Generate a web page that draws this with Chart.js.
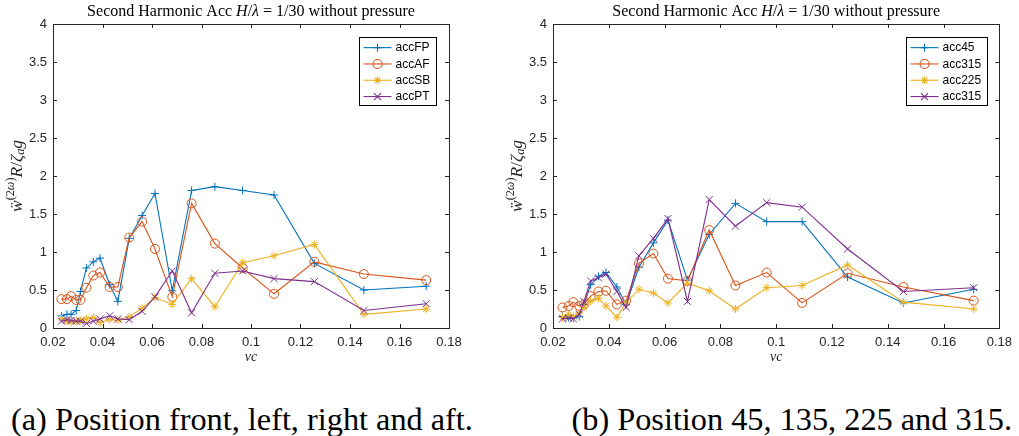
<!DOCTYPE html>
<html>
<head>
<meta charset="utf-8">
<script src="https://cdn.jsdelivr.net/npm/chart.js@4/dist/chart.umd.min.js"></script>
<style>
  body { margin: 0; background: #fff; width: 1019px; height: 436px; position: relative; overflow: hidden; }
  canvas { position: absolute; top: 0; }
  #chartA { left: 0; }
  #chartB { left: 500px; }
  .cap { position: absolute; top: 403px; font-family: 'Liberation Serif', 'DejaVu Serif', 'Times New Roman', serif;
         color: #000; white-space: nowrap; line-height: 1; font-size: 100px; }
</style>
</head>
<body>
<canvas id="chartA" width="500" height="370"></canvas>
<canvas id="chartB" width="519" height="370"></canvas>
<span class="cap" id="capA" style="left:11px">(a) Position front, left, right and aft.</span>
<span class="cap" id="capB" style="right:7px">(b) Position 45, 135, 225 and 315.</span>
<script>
// frequency axis (shared by all series)
const nuC = [0.0234, 0.0256, 0.0273, 0.0294, 0.0311, 0.0335, 0.0363, 0.039, 0.0429, 0.0462, 0.0508,
             0.056, 0.0612, 0.0682, 0.076, 0.0854, 0.0966, 0.1093, 0.1256, 0.1456, 0.1708];

// front / aft / starboard / port
const accFP = [0.16, 0.18, 0.18, 0.23, 0.48, 0.79, 0.87, 0.92, 0.57, 0.35, 1.18, 1.48, 1.77, 0.49, 1.81, 1.86, 1.81, 1.75, 0.85, 0.50, 0.55];
const accAF = [0.38, 0.38, 0.42, 0.37, 0.37, 0.53, 0.69, 0.73, 0.54, 0.54, 1.19, 1.40, 1.04, 0.41, 1.64, 1.11, 0.79, 0.45, 0.87, 0.71, 0.63];
const accSB = [0.12, 0.09, 0.08, 0.09, 0.10, 0.12, 0.14, 0.07, 0.11, 0.10, 0.15, 0.26, 0.40, 0.31, 0.65, 0.28, 0.86, 0.95, 1.10, 0.18, 0.25];
const accPT = [0.09, 0.11, 0.10, 0.09, 0.09, 0.06, 0.09, 0.12, 0.16, 0.12, 0.11, 0.22, 0.41, 0.75, 0.20, 0.72, 0.75, 0.65, 0.61, 0.23, 0.32];

// diagonal positions
const acc45   = [0.15, 0.14, 0.13, 0.15, 0.31, 0.57, 0.68, 0.73, 0.54, 0.31, 0.80, 1.12, 1.42, 0.63, 1.23, 1.64, 1.40, 1.40, 0.67, 0.33, 0.51];
const acc135  = [0.27, 0.29, 0.34, 0.29, 0.31, 0.42, 0.48, 0.49, 0.31, 0.36, 0.85, 0.98, 0.65, 0.62, 1.29, 0.56, 0.73, 0.33, 0.72, 0.54, 0.36];
const acc225  = [0.14, 0.18, 0.15, 0.20, 0.27, 0.35, 0.39, 0.29, 0.14, 0.33, 0.51, 0.46, 0.33, 0.59, 0.49, 0.25, 0.53, 0.56, 0.83, 0.34, 0.25];
const acc315  = [0.12, 0.13, 0.12, 0.18, 0.35, 0.62, 0.66, 0.71, 0.48, 0.27, 0.95, 1.18, 1.44, 0.35, 1.69, 1.34, 1.65, 1.59, 1.04, 0.48, 0.53];

const namesA = ['accFP', 'accAF', 'accSB', 'accPT'];
const namesB = ['acc45', 'acc315', 'acc225', 'acc315'];

const xTickLabels = ['0.02', '0.04', '0.06', '0.08', '0.1', '0.12', '0.14', '0.16', '0.18'];
const yTickLabels = ['0', '0.5', '1', '1.5', '2', '2.5', '3', '3.5', '4'];

const lineColors = ['#0072BD', '#D95319', '#EDB120', '#7E2F8E'];
const markers = [
  { pointStyle: 'cross', radius: 4 },
  { pointStyle: 'circle', radius: 4.5 },
  { pointStyle: 'star', radius: 4 },
  { pointStyle: 'crossRot', radius: 5 }
];

const AX = '#262626';
const SERIF = "'Liberation Serif', 'DejaVu Serif', serif";
const SANS = "'Liberation Sans', Arial, sans-serif";

// draw a run of [text, italic, scale, dy] pieces starting at x (left aligned)
function drawPieces(ctx, pieces, size, x, y) {
  pieces.forEach(([t, it, sc, dy]) => {
    ctx.font = (it ? 'italic ' : '') + (size * sc).toFixed(2) + 'px ' + SERIF;
    ctx.fillText(t, x, y + dy * size);
    x += ctx.measureText(t).width;
  });
}
function piecesWidth(ctx, pieces, size) {
  let w = 0;
  pieces.forEach(([t, it, sc]) => {
    ctx.font = (it ? 'italic ' : '') + (size * sc).toFixed(2) + 'px ' + SERIF;
    w += ctx.measureText(t).width;
  });
  return w;
}

const titlePieces = [
  ['Second Harmonic Acc ', false, 1, 0], ['H', true, 1, 0], ['/', false, 1, 0],
  ['λ', true, 1, 0], [' = 1/30 without pressure', false, 1, 0]
];
const yLabelPieces = [
  ['ẅ', true, 1, 0], ['(2', false, 0.7, -0.38], ['ω', true, 0.7, -0.38], [')', false, 0.7, -0.38],
  ['R', true, 1, 0], ['/', false, 1, 0], ['ζ', true, 1, 0], ['a', true, 0.7, 0.2], ['g', true, 1, 0]
];

const matlabAxes = {
  id: 'matlabAxes',
  afterDraw(chart) {
    const ctx = chart.ctx, ca = chart.chartArea;
    const xs = chart.scales.x, ys = chart.scales.y;
    ctx.save();
    ctx.strokeStyle = AX;
    ctx.lineWidth = 1;
    // frame
    ctx.strokeRect(Math.round(ca.left) + 0.5, Math.round(ca.top) + 0.5,
                   Math.round(ca.right - ca.left), Math.round(ca.bottom - ca.top));
    // inward ticks on all four sides
    const tl = 4;
    ctx.beginPath();
    xs.ticks.forEach(t => {
      const px = Math.round(xs.getPixelForValue(t.value)) + 0.5;
      ctx.moveTo(px, ca.bottom); ctx.lineTo(px, ca.bottom - tl);
      ctx.moveTo(px, ca.top); ctx.lineTo(px, ca.top + tl);
    });
    ys.ticks.forEach(t => {
      const py = Math.round(ys.getPixelForValue(t.value)) + 0.5;
      ctx.moveTo(ca.left, py); ctx.lineTo(ca.left + tl, py);
      ctx.moveTo(ca.right, py); ctx.lineTo(ca.right - tl, py);
    });
    ctx.stroke();

    // title
    ctx.fillStyle = '#000';
    ctx.textBaseline = 'middle';
    ctx.textAlign = 'left';
    const tSize = 100 * 328 / piecesWidth(ctx, titlePieces, 100);
    const cx = (ca.left + ca.right) / 2;
    drawPieces(ctx, titlePieces, tSize, cx - piecesWidth(ctx, titlePieces, tSize) / 2, 12);

    // x label
    ctx.fillStyle = AX;
    ctx.font = 'italic 14px ' + SERIF;
    ctx.textAlign = 'center';
    ctx.fillText('νc', cx, 357);

    // y label, rotated
    ctx.save();
    ctx.translate(ca.left - 36, (ca.top + ca.bottom) / 2);
    ctx.rotate(-Math.PI / 2);
    ctx.textAlign = 'left';
    const ySize = 100 * 72 / piecesWidth(ctx, yLabelPieces, 100);
    drawPieces(ctx, yLabelPieces, ySize, -piecesWidth(ctx, yLabelPieces, ySize) / 2, 0);
    ctx.restore();

    // legend box in the top-right corner
    const sets = chart.data.datasets;
    ctx.font = '12px ' + SANS;
    const textW = Math.max(...sets.map(d => ctx.measureText(d.label).width));
    const rowH = 16.3, lineLen = 28;
    const boxW = 4 + lineLen + 4 + textW + 6;
    const boxH = sets.length * rowH + 3;
    const bx = Math.round(ca.right - 13 - boxW) + 0.5, by = Math.round(ca.top + 13) + 0.5;
    ctx.fillStyle = '#fff';
    ctx.fillRect(bx, by, boxW, boxH);
    ctx.strokeStyle = '#000';
    ctx.strokeRect(bx, by, Math.round(boxW), Math.round(boxH));
    sets.forEach((d, i) => {
      const yy = by + 2 + rowH * (i + 0.5);
      ctx.strokeStyle = d.borderColor;
      ctx.lineWidth = 1.1;
      ctx.beginPath();
      ctx.moveTo(bx + 4, yy); ctx.lineTo(bx + 4 + lineLen, yy);
      ctx.stroke();
      ctx.fillStyle = 'rgba(0,0,0,0)';
      Chart.helpers.drawPoint(ctx, { pointStyle: d.pointStyle, radius: d.pointRadius, borderWidth: 1, rotation: 0 },
                              bx + 4 + lineLen / 2, yy);
      ctx.fillStyle = '#000';
      ctx.textAlign = 'left';
      ctx.textBaseline = 'middle';
      ctx.fillText(d.label, bx + 8 + lineLen, yy + 0.5);
    });
    ctx.restore();
  }
};

function makeChart(id, names, series, padRight) {
  const datasets = series.map((vals, i) => ({
    label: names[i],
    data: nuC.map((x, k) => ({ x: x, y: vals[k] })),
    borderColor: lineColors[i],
    backgroundColor: 'rgba(0,0,0,0)',
    pointBackgroundColor: 'rgba(0,0,0,0)',
    pointBorderColor: lineColors[i],
    borderWidth: 1.1,
    pointBorderWidth: 1,
    pointStyle: markers[i].pointStyle,
    pointRadius: markers[i].radius,
    tension: 0,
    order: series.length - i
  }));
  return new Chart(document.getElementById(id), {
    type: 'line',
    data: { datasets },
    options: {
      responsive: false,
      animation: false,
      devicePixelRatio: 1,
      events: [],
      layout: { padding: { top: 24, right: padRight, bottom: 0, left: 0 } },
      plugins: { legend: { display: false }, title: { display: false }, tooltip: { enabled: false } },
      scales: {
        x: {
          type: 'linear', min: 0.02, max: 0.18,
          grid: { display: false, drawTicks: false }, border: { display: false },
          ticks: { stepSize: 0.02, padding: 7, color: AX, font: { family: SANS, size: 13 },
                   maxRotation: 0, callback: (v, i) => xTickLabels[i] },
          afterFit: s => { s.height = 42; }
        },
        y: {
          min: 0, max: 4,
          grid: { display: false, drawTicks: false }, border: { display: false },
          ticks: { stepSize: 0.5, padding: 6, color: AX, font: { family: SANS, size: 13 },
                   callback: (v, i) => yTickLabels[i] },
          afterFit: s => { s.width = 53; }
        }
      }
    },
    plugins: [matlabAxes]
  });
}

makeChart('chartA', namesA, [accFP, accAF, accSB, accPT], 51);
makeChart('chartB', namesB, [acc45, acc135, acc225, acc315], 15);

// captions: size the serif text to its column width, measured as rendered
(function () {
  const capA = document.getElementById('capA');
  const w = capA.getBoundingClientRect().width;
  const size = 100 * 462 / w;
  document.querySelectorAll('.cap').forEach(el => { el.style.fontSize = size.toFixed(2) + 'px'; });
})();
</script>
</body>
</html>
